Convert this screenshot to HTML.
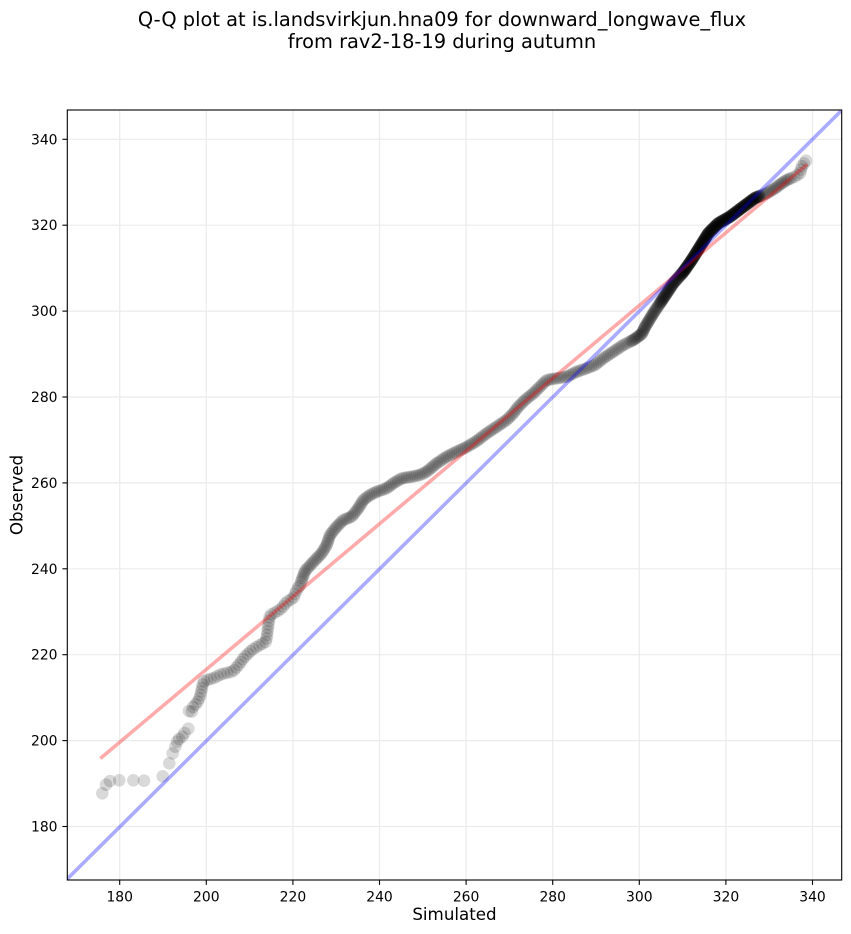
<!DOCTYPE html>
<html>
<head>
<meta charset="utf-8">
<style>
html,body{margin:0;padding:0;background:#fff;}
svg{display:block;}
text{font-family:"DejaVu Sans","Liberation Sans",sans-serif;fill:#000;}
</style>
</head>
<body>
<svg id="s" width="851" height="934" viewBox="0 0 851 934" xmlns="http://www.w3.org/2000/svg">
<defs>
<clipPath id="ax"><rect x="67.3" y="110" width="774.4" height="770"/></clipPath>
</defs>
<rect width="851" height="934" fill="#fff"/>
<text x="442" y="26" font-size="19.4" text-anchor="middle">Q-Q plot at is.landsvirkjun.hna09 for downward_longwave_flux</text>
<text x="442" y="48" font-size="19.4" text-anchor="middle">from rav2-18-19 during autumn</text>
<g id="grid" stroke="#ebebeb" stroke-width="1.2"></g>
<g id="pts" clip-path="url(#ax)" fill="#000" fill-opacity="0.15"></g>
<g clip-path="url(#ax)">
<line x1="100.3" y1="758.5" x2="807.3" y2="164.3" stroke="#ff0000" stroke-opacity="0.33" stroke-width="3.6"/>
<line x1="66.4" y1="879.8" x2="841.9" y2="110.1" stroke="#0000ff" stroke-opacity="0.33" stroke-width="3.6"/>
</g>
<rect x="67.3" y="110" width="774.4" height="770" fill="none" stroke="#000" stroke-width="1.1"/>
<g id="ticks" stroke="#000" stroke-width="1.1"></g>
<g id="labels" font-size="13.9"></g>
<text x="454.5" y="920" font-size="16.7" text-anchor="middle">Simulated</text>
<text x="0" y="0" font-size="16.7" text-anchor="middle" transform="translate(22.5,495) rotate(-90)">Observed</text>
</svg>
<script>
(function(){
var NS="http://www.w3.org/2000/svg";
function el(n,a,p,t){var e=document.createElementNS(NS,n);for(var k in a)e.setAttribute(k,a[k]);if(t!==undefined)e.textContent=t;p.appendChild(e);return e;}
var grid=document.getElementById('grid'),ticks=document.getElementById('ticks'),labels=document.getElementById('labels');
for(var i=0;i<9;i++){
  var v=180+20*i;
  var x=119.7+i*86.6;
  var y=826.5-i*85.9;
  el('line',{x1:x,y1:110,x2:x,y2:880},grid);
  el('line',{x1:67.3,y1:y,x2:841.7,y2:y},grid);
  el('line',{x1:x,y1:880,x2:x,y2:884.9},ticks);
  el('line',{x1:62.4,y1:y,x2:67.3,y2:y},ticks);
  el('text',{x:x,y:901.5,'text-anchor':'middle'},labels,String(v));
  el('text',{x:57.5,y:y+5,'text-anchor':'end'},labels,String(v));
}
var pts=document.getElementById('pts');
var R=6.3;
var sparse=[[102.3,793.3],[106,784.7],[110,781],[119.3,780.3],[133.3,780.3],[144,780.7],[162.7,776.3],[169.3,763.3],[172.7,753.3],[175.3,746.7],[177,741.7],[179,739],[182.3,736.7],[184.5,733],[188.3,728.7],[189,711],[191.7,711.7]];
sparse.forEach(function(p){el('circle',{cx:p[0],cy:p[1],r:R},pts);});
var path=[[193,707],[197,703],[200,697],[202,688],[203.3,681.7],[208,679.5],[213.3,678.3],[221.7,674],[233,671.5],[240,663.3],[243.3,658.3],[251.7,650],[260,645],[266,641.7],[267.3,633.3],[268.3,625],[270,615],[276.7,611.7],[281.7,608.3],[286.7,601.7],[293.3,598.3],[296.7,590],[300,585],[305,571],[313.3,562],[321.7,553.3],[326.7,545],[330,535],[336.7,526.7],[343.3,520],[351.7,516.7],[358.3,508.3],[363.3,500],[370,495],[376.7,491.7],[386.7,488.3],[393.3,483.3],[401.7,478.3],[411.7,476.7],[420,475],[426.7,471.7],[436.7,463.3],[446.7,456.7],[456.7,451.7],[466.7,447],[476.7,441],[486.7,433.3],[496.7,426.7],[506.7,420],[513.3,413.3],[518.3,406.7],[525,400],[533.3,393.3],[540,386.7],[546.7,380],[556.7,378.3],[566.7,376.7],[576.7,371.7],[586.7,368.3],[595,365],[603.3,358.3],[613.3,351.7],[623.3,345],[633.3,340],[641.7,334],[645,327],[653.3,313.3],[660,303.3],[666.7,293.3],[673.3,283.3],[683.3,272],[691.7,260],[700,246.7],[708.3,233.3],[718.3,223.3],[730,216.7],[743.3,206.7],[755,198],[766.7,193.3],[775,188.3],[781.7,183.3],[786.7,180],[795,176.7],[800,173.3],[801.7,166.7],[805,162]];
function spacing(x){
  if(x<300) return 3.6;
  if(x<480) return 2.4;
  if(x<630) return 2.5;
  if(x<660) return 1.4;
  if(x<680) return 0.9;
  if(x<760) return 0.6;
  if(x<790) return 2;
  return 3.5;
}
var acc=0;
el('circle',{cx:path[0][0],cy:path[0][1],r:R},pts);
for(var j=0;j<path.length-1;j++){
  var a=path[j],b=path[j+1];
  var dx=b[0]-a[0],dy=b[1]-a[1],L=Math.sqrt(dx*dx+dy*dy);
  var t=0;
  while(true){
    var px=a[0]+dx*(t/L);
    var s=spacing(px);
    var need=s-acc;
    if(t+need>L){acc+=L-t;break;}
    t+=need;acc=0;
    el('circle',{cx:(a[0]+dx*t/L).toFixed(2),cy:(a[1]+dy*t/L).toFixed(2),r:R},pts);
  }
}
el('circle',{cx:806,cy:160.7,r:R},pts);
})();
</script>
</body>
</html>
